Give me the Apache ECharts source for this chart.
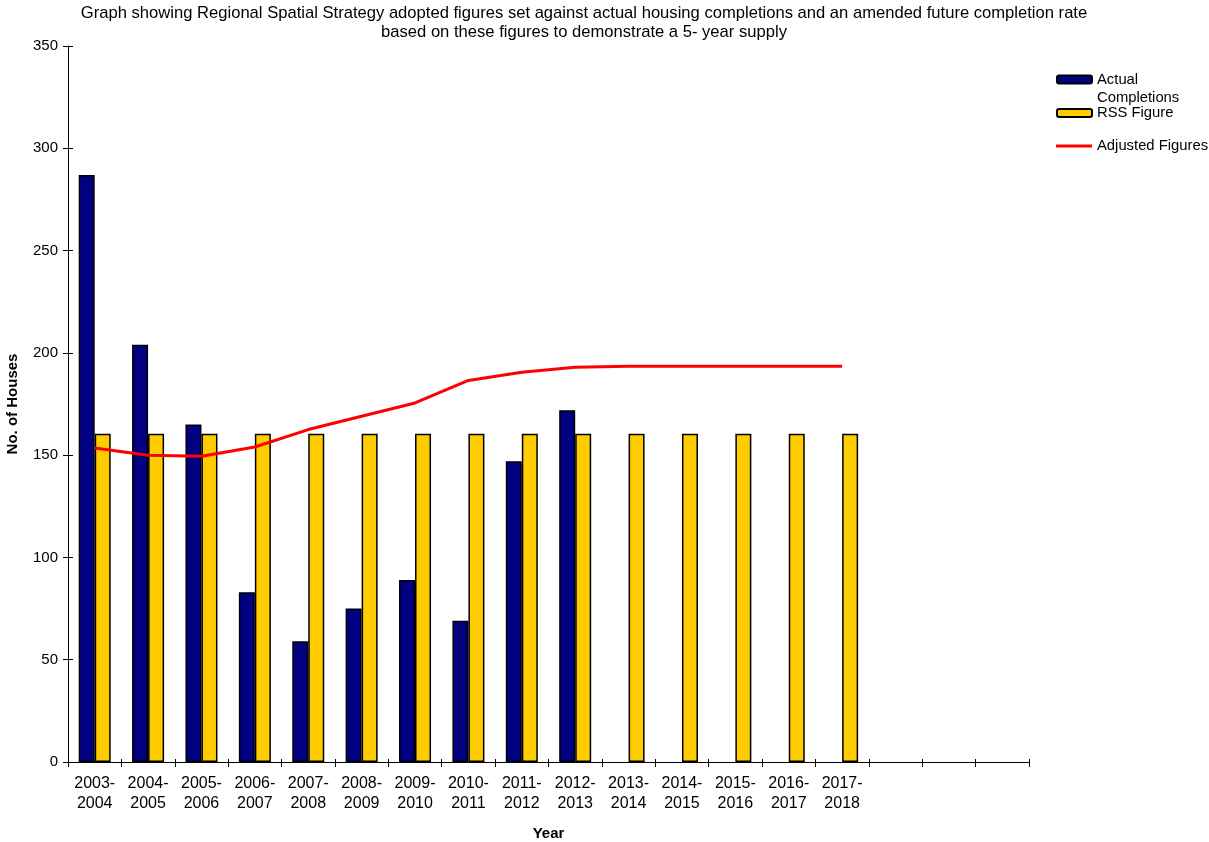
<!DOCTYPE html>
<html>
<head>
<meta charset="utf-8">
<script src="https://cdn.jsdelivr.net/npm/echarts@6/dist/echarts.min.js"></script>
<style>html,body{margin:0;padding:0;background:#fff}#c{width:1209px;height:842px}</style>
</head>
<body>
<div id="c"></div>
<script>
var categories = ['2003-\n2004','2004-\n2005','2005-\n2006','2006-\n2007','2007-\n2008','2008-\n2009','2009-\n2010','2010-\n2011','2011-\n2012','2012-\n2013','2013-\n2014','2014-\n2015','2015-\n2016','2016-\n2017','2017-\n2018',' ','  ','   '];
var actualCompletions = [287, 204, 165, 83, 59, 75, 89, 69, 147, 172];
var rssFigure = [160.5,160.5,160.5,160.5,160.5,160.5,160.5,160.5,160.5,160.5,160.5,160.5,160.5,160.5,160.5];
var adjustedFigures = [153.5,150,149.5,154,162.5,169,175.5,186.5,190.5,193,193.5,193.5,193.5,193.5,193.5];
var yTicks = {min: 0, max: 350, interval: 50};

var FONT = '"Liberation Sans", Arial, sans-serif';
var legendText = {fontFamily: FONT, fontSize: 14.8, color: '#000', lineHeight: 18};
var chart = echarts.init(document.getElementById('c'), null, {renderer: 'canvas'});
chart.setOption({
  animation: false,
  backgroundColor: '#fff',
  title: {
    text: 'Graph showing Regional Spatial Strategy adopted figures set against actual housing completions and an amended future completion rate\nbased on these figures to demonstrate a 5- year supply',
    left: 584, top: 4, textAlign: 'center', padding: 0,
    textStyle: {fontFamily: FONT, fontSize: 16.6, fontWeight: 'normal', color: '#000', lineHeight: 19}
  },
  grid: {left: 68, right: 180, top: 46, bottom: 80, outerBoundsMode: 'none', containLabel: false},
  legend: [
    {data: ['Actual Completions'], left: 1056, top: 52.5, padding: 0, itemWidth: 35, itemHeight: 8,
     formatter: function(){return '\nActual\nCompletions';},
     textStyle: legendText},
    {data: ['RSS Figure'], left: 1056, top: 104, padding: 0, itemWidth: 35, itemHeight: 8,
     textStyle: legendText},
    {data: [{name: 'Adjusted Figures', icon: 'rect'}], left: 1056, top: 137, padding: 0, itemWidth: 36, itemHeight: 3,
     textStyle: legendText}
  ],
  xAxis: [{
    type: 'category', data: categories, boundaryGap: true,
    name: 'Year', nameLocation: 'middle', nameGap: 64, nameMoveOverlap: false,
    nameTextStyle: {fontFamily: FONT, fontSize: 15, fontWeight: 'bold', color: '#000'},
    axisLine: {lineStyle: {color: '#000', width: 1}},
    axisTick: {show: true, length: 5, interval: 0, lineStyle: {color: '#000'}},
    axisLabel: {interval: 0, fontFamily: FONT, fontSize: 16, color: '#000', lineHeight: 20, margin: 12},
    splitLine: {show: false}
  }, {
    type: 'category', data: categories, position: 'bottom', boundaryGap: true,
    axisLine: {show: false}, axisLabel: {show: false}, splitLine: {show: false},
    axisTick: {show: true, inside: true, length: 3, interval: 0, lineStyle: {color: '#000'}}
  }],
  yAxis: [{
    type: 'value', min: yTicks.min, max: yTicks.max, interval: yTicks.interval,
    name: 'No. of Houses', nameLocation: 'middle', nameGap: 48, nameRotate: 90, nameMoveOverlap: false,
    nameTextStyle: {fontFamily: FONT, fontSize: 15, fontWeight: 'bold', color: '#000'},
    axisLine: {show: true, lineStyle: {color: '#000', width: 1}},
    axisTick: {show: true, length: 5, lineStyle: {color: '#000'}},
    axisLabel: {fontFamily: FONT, fontSize: 15, color: '#000', margin: 10},
    splitLine: {show: false}
  }, {
    type: 'value', min: yTicks.min, max: yTicks.max, interval: yTicks.interval, position: 'left', offset: 0,
    axisLine: {show: false}, axisLabel: {show: false}, splitLine: {show: false},
    axisTick: {show: true, inside: true, length: 5, lineStyle: {color: '#000'}}
  }],
  series: [
    {name: 'Actual Completions', type: 'bar', data: actualCompletions, barWidth: 16, barGap: '0%',
     itemStyle: {color: '#000080', borderColor: '#000', borderWidth: 1.5}},
    {name: 'RSS Figure', type: 'bar', data: rssFigure, barWidth: 16, barGap: '0%',
     itemStyle: {color: '#FFCC00', borderColor: '#000', borderWidth: 1.5}},
    {name: 'Adjusted Figures', type: 'line', data: adjustedFigures, symbol: 'none', showSymbol: false,
     lineStyle: {color: '#FF0000', width: 3}, itemStyle: {color: '#FF0000'}, z: 5}
  ]
});
</script>
</body>
</html>
